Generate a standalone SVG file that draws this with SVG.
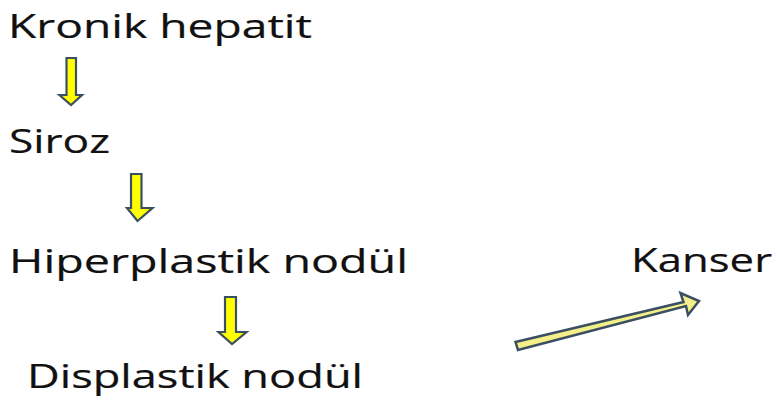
<svg xmlns="http://www.w3.org/2000/svg" width="777" height="408" viewBox="0 0 777 408">
<style>
.t{font-family:"Open Sans","Liberation Sans",sans-serif;font-size:32.5px;fill:#111;stroke:#111;stroke-width:0.2}
.a{fill:#ffff00;stroke:#3b4f63;stroke-width:2.2;stroke-linejoin:miter}
.b{fill:#f3f08a;stroke:#3b4f63;stroke-width:2.5;stroke-linejoin:miter}
</style>
<rect width="777" height="408" fill="#fff"/>
<g id="kronik"><text class="t" x="8" y="38" textLength="304" lengthAdjust="spacingAndGlyphs">Kronik hepatit</text></g>
<g id="siroz"><text class="t" x="9" y="153" textLength="101" lengthAdjust="spacingAndGlyphs">Siroz</text></g>
<g id="hiperplastik"><text class="t" x="9" y="273" textLength="399" lengthAdjust="spacingAndGlyphs">Hiperplastik nodül</text></g>
<g id="displastik"><text class="t" x="27" y="388" textLength="336" lengthAdjust="spacingAndGlyphs">Displastik nodül</text></g>
<g id="kanser"><text class="t" x="631" y="272" textLength="141" lengthAdjust="spacingAndGlyphs">Kanser</text></g>
<g id="connectors">
<path class="a" d="M66.5,58 H76 V95 H82 L71,105 L59.5,95 H66.5 Z"/>
<path class="a" d="M131,174 H141.5 V208 H152.5 L137.5,221 L127,208 H131 Z"/>
<path class="a" d="M225,297 H236 V332 H246.5 L232,344 L218.5,332 H225 Z"/>
<path class="b" d="M515.5,342 L683.5,302 L680.5,293 L699,301 L688,315 L686,306 L518,350 Z"/>
</g>
</svg>
